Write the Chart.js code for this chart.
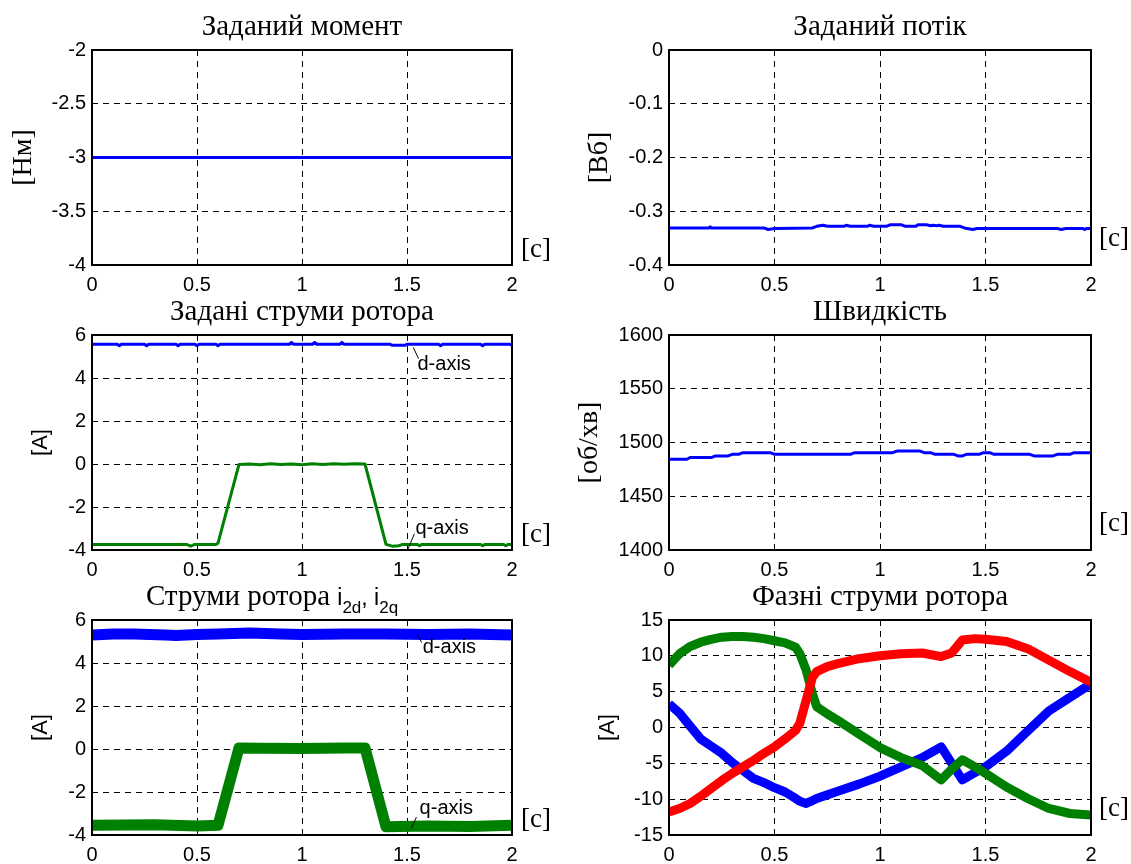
<!DOCTYPE html>
<html>
<head>
<meta charset="utf-8">
<script src="https://cdn.jsdelivr.net/npm/chart.js@4.4.0/dist/chart.umd.min.js"></script>
<style>
  body { margin: 0; background: #fff; width: 1131px; height: 864px; position: relative; overflow: hidden; }
  canvas { position: absolute; }
</style>
</head>
<body>
<script>
// ---- tick labels ----
const timeTicks = [0, 0.5, 1, 1.5, 2];
const torqueTicks = [-4, -3.5, -3, -2.5, -2];
const fluxTicks = [-0.4, -0.3, -0.2, -0.1, 0];
const currentTicks = [-4, -2, 0, 2, 4, 6];
const speedTicks = [1400, 1450, 1500, 1550, 1600];
const phaseTicks = [-15, -10, -5, 0, 5, 10, 15];

// ---- Заданий момент ----
const torqueT = [0, 2];
const torqueRef = [-3, -3];

// ---- Заданий потік ----
const fluxT = [0, 0.19, 0.195, 0.2, 0.45, 0.47, 0.5, 0.68, 0.7, 0.73, 0.75, 0.83, 0.84, 0.86, 0.94, 0.95, 0.97,
  1.03, 1.05, 1.1, 1.12, 1.17, 1.18, 1.22, 1.24, 1.25, 1.27, 1.28, 1.3, 1.38, 1.4, 1.44, 1.46, 1.84, 1.86, 1.88,
  1.96, 1.97, 1.98, 2];
const fluxRef = [-0.331, -0.331, -0.329, -0.331, -0.331, -0.334, -0.332, -0.331, -0.328, -0.326, -0.328, -0.328,
  -0.326, -0.328, -0.328, -0.326, -0.328, -0.328, -0.325, -0.325, -0.328, -0.328, -0.325, -0.325, -0.327, -0.326,
  -0.327, -0.326, -0.328, -0.328, -0.331, -0.334, -0.332, -0.332, -0.334, -0.332, -0.332, -0.334, -0.332, -0.332];

// ---- Задані струми ротора ----
const idRefT = [0, 0.12, 0.13, 0.14, 0.25, 0.26, 0.27, 0.4, 0.41, 0.42, 0.49, 0.5, 0.51, 0.59, 0.6, 0.61, 0.94,
  0.95, 0.96, 1.05, 1.06, 1.07, 1.18, 1.19, 1.2, 1.42, 1.43, 1.49, 1.5, 1.65, 1.66, 1.67, 1.85, 1.86, 1.87, 1.99, 2];
const idRef = [5.57, 5.57, 5.5, 5.57, 5.57, 5.5, 5.57, 5.57, 5.5, 5.57, 5.57, 5.5, 5.57, 5.57, 5.5, 5.57, 5.57,
  5.65, 5.57, 5.57, 5.65, 5.57, 5.57, 5.65, 5.57, 5.57, 5.52, 5.52, 5.57, 5.57, 5.5, 5.57, 5.57, 5.5, 5.57, 5.57, 5.52];
const iqRefT = [0, 0.45, 0.47, 0.49, 0.59, 0.6, 0.7, 0.75, 0.8, 0.85, 0.9, 0.95, 1.0, 1.05, 1.1, 1.15, 1.2, 1.25,
  1.3, 1.4, 1.43, 1.46, 1.48, 1.55, 1.56, 1.57, 1.85, 1.86, 1.87, 1.96, 1.97, 1.98, 2];
const iqRef = [-3.74, -3.74, -3.82, -3.74, -3.74, -3.68, -0.02, 0, -0.03, 0.01, -0.02, 0, -0.03, 0.01, -0.02, 0.01,
  -0.01, 0.01, 0, -3.74, -3.82, -3.8, -3.74, -3.74, -3.8, -3.74, -3.74, -3.8, -3.74, -3.74, -3.8, -3.74, -3.74];

// ---- Швидкість ----
const speedT = [0, 0.085, 0.1, 0.2, 0.22, 0.28, 0.3, 0.33, 0.35, 0.48, 0.5, 0.86, 0.88, 1.06, 1.08, 1.19, 1.21,
  1.24, 1.26, 1.35, 1.37, 1.39, 1.41, 1.47, 1.49, 1.52, 1.54, 1.71, 1.73, 1.82, 1.84, 1.9, 1.92, 2];
const speed = [1484.4, 1484.4, 1486, 1486, 1487.5, 1487.5, 1489, 1489, 1490.5, 1490.5, 1489, 1489, 1490.5, 1490.5,
  1492, 1492, 1490.5, 1490.5, 1489, 1489, 1487.5, 1487.5, 1489, 1489, 1490.5, 1490.5, 1489, 1489, 1487.5, 1487.5,
  1489, 1489, 1490.5, 1490.5];

// ---- Струми ротора i2d, i2q ----
const idT = [0, 0.1, 0.2, 0.35, 0.4, 0.5, 0.6, 0.75, 0.9, 1.0, 1.2, 1.4, 1.6, 1.8, 2];
const id = [5.3, 5.35, 5.35, 5.3, 5.28, 5.33, 5.35, 5.4, 5.35, 5.33, 5.35, 5.35, 5.33, 5.35, 5.3];
const iqT = [0, 0.3, 0.5, 0.6, 0.7, 0.8, 1.0, 1.2, 1.3, 1.4, 1.6, 1.8, 2];
const iq = [-3.55, -3.52, -3.58, -3.55, 0.05, 0.03, 0.02, 0.05, 0.05, -3.62, -3.58, -3.6, -3.55];

// ---- Фазні струми ротора ----
const phT = [0, 0.05, 0.1, 0.15, 0.2, 0.25, 0.3, 0.35, 0.4, 0.45, 0.5, 0.55, 0.6, 0.62, 0.65, 0.68, 0.7, 0.75, 0.8,
  0.9, 1.0, 1.1, 1.2, 1.29, 1.34, 1.39, 1.45, 1.5, 1.6, 1.7, 1.8, 1.9, 2];
const phA = [3.3, 2.0, 0.2, -1.6, -2.6, -3.6, -4.9, -6.0, -7.1, -7.7, -8.4, -9.0, -9.9, -10.3, -10.6, -10.2, -9.9,
  -9.4, -8.9, -7.9, -6.8, -5.5, -4.2, -2.7, -5.0, -7.3, -6.3, -5.5, -3.3, -0.5, 2.3, 4.2, 6.1];
const phB = [8.7, 10.3, 11.3, 11.9, 12.3, 12.6, 12.7, 12.7, 12.6, 12.4, 12.1, 11.8, 11.2, 10.3, 8.0, 4.7, 2.9, 1.9,
  1.0, -0.9, -2.8, -4.2, -5.3, -7.3, -5.8, -4.5, -5.5, -6.4, -8.3, -9.9, -11.3, -12.0, -12.2];
const phC = [-11.8, -11.3, -10.6, -9.6, -8.5, -7.4, -6.4, -5.5, -4.6, -3.6, -2.7, -1.6, -0.4, 0.6, 3.8, 7.0, 7.8,
  8.5, 8.9, 9.6, 10.0, 10.3, 10.4, 9.9, 10.4, 12.2, 12.4, 12.3, 12.0, 11.0, 9.4, 7.8, 6.3];

const BLUE = '#0000ff', GREEN = '#008000', RED = '#ff0000';
const SERIF = '"Liberation Serif", "Times New Roman", serif';
const SANS = '"Liberation Sans", Arial, sans-serif';

function makeDecor(cfg) {
  return {
    id: 'decor',
    afterDatasetsDraw(chart) {
      const ctx = chart.ctx, a = chart.chartArea;
      const sx = chart.scales.x, sy = chart.scales.y;
      ctx.save();
      ctx.strokeStyle = '#000';
      ctx.lineWidth = 2;
      ctx.setLineDash([]);
      ctx.strokeRect(a.left, a.top, a.right - a.left, a.bottom - a.top);
      // d-axis / q-axis notes
      (cfg.notes || []).forEach(n => {
        ctx.lineWidth = 1;
        ctx.beginPath();
        ctx.moveTo(sx.getPixelForValue(n.from[0]), sy.getPixelForValue(n.from[1]));
        ctx.lineTo(sx.getPixelForValue(n.to[0]), sy.getPixelForValue(n.to[1]));
        ctx.stroke();
        ctx.fillStyle = '#000';
        ctx.font = '20px ' + SANS;
        ctx.textAlign = 'left';
        ctx.textBaseline = 'middle';
        ctx.fillText(n.text, sx.getPixelForValue(n.at[0]), sy.getPixelForValue(n.at[1]));
      });
      ctx.restore();
    },
    afterDraw(chart) {
      const ctx = chart.ctx, a = chart.chartArea;
      ctx.save();
      ctx.fillStyle = '#000';
      // title
      let w = 0;
      cfg.title.forEach(p => { ctx.font = p.font; w += ctx.measureText(p.text).width; });
      let x = (a.left + a.right) / 2 - w / 2 + (cfg.titleDx || 0);
      ctx.textAlign = 'left';
      ctx.textBaseline = 'alphabetic';
      cfg.title.forEach(p => {
        ctx.font = p.font;
        ctx.fillText(p.text, x, a.top - 15 + (p.dy || 0));
        x += ctx.measureText(p.text).width;
      });
      // y label
      ctx.save();
      ctx.translate(cfg.ylabel.x, (a.top + a.bottom) / 2);
      ctx.rotate(-Math.PI / 2);
      ctx.font = cfg.ylabel.font;
      ctx.textAlign = 'center';
      ctx.textBaseline = 'middle';
      ctx.fillText(cfg.ylabel.text, 0, 0);
      ctx.restore();
      // [с]
      ctx.font = '27px ' + SERIF;
      ctx.textAlign = 'left';
      ctx.textBaseline = 'middle';
      ctx.fillText('[с]', a.right + cfg.unitDx, a.bottom - cfg.unitDy);
      ctx.restore();
    }
  };
}

function makeChart(cfg) {
  const cv = document.createElement('canvas');
  cv.width = cfg.w;
  cv.height = 294;
  cv.style.left = cfg.x + 'px';
  cv.style.top = cfg.y + 'px';
  document.body.appendChild(cv);
  const tickFont = { family: SANS, size: 20 };
  new Chart(cv, {
    type: 'line',
    data: {
      datasets: cfg.series.map((s, i) => ({
        data: s.xs.map((v, k) => ({ x: v, y: s.ys[k] })),
        borderColor: s.color,
        borderWidth: s.width,
        pointRadius: 0,
        tension: 0,
        fill: false,
        borderJoinStyle: 'round',
        order: cfg.series.length - i
      }))
    },
    options: {
      responsive: false,
      animation: false,
      events: [],
      layout: { padding: { top: 50, right: cfg.padRight, bottom: 0, left: 0 } },
      plugins: { legend: { display: false }, tooltip: { enabled: false } },
      scales: {
        x: {
          type: 'linear', min: 0, max: 2,
          afterBuildTicks: s => { s.ticks = timeTicks.map(v => ({ value: v })); },
          afterFit: s => { s.height = 29; },
          ticks: { autoSkip: false, maxRotation: 0, padding: 8, color: '#000', font: tickFont, callback: v => String(v) },
          grid: { color: '#000', lineWidth: 1, drawTicks: false },
          border: { display: false, dash: [6, 5] }
        },
        y: {
          type: 'linear', min: cfg.yTicks[0], max: cfg.yTicks[cfg.yTicks.length - 1],
          afterBuildTicks: s => { s.ticks = cfg.yTicks.map(v => ({ value: v })); },
          afterFit: s => { s.width = cfg.yw; },
          ticks: { autoSkip: false, padding: 6, color: '#000', font: tickFont, callback: v => String(v) },
          grid: { color: '#000', lineWidth: 1, drawTicks: false },
          border: { display: false, dash: [6, 5] }
        }
      }
    },
    plugins: [makeDecor(cfg)]
  });
}

const titleFont = '29px ' + SERIF;
const LEFT = { x: 0, w: 566, yw: 92, padRight: 54, unitDx: 9, unitDy: 15 };
const RIGHT = { x: 566, w: 565, yw: 103, padRight: 40, unitDx: 8, unitDy: 26 };

makeChart(Object.assign({}, LEFT, {
  y: 0, yTicks: torqueTicks,
  title: [{ text: 'Заданий момент', font: titleFont }],
  ylabel: { text: '[Нм]', font: '28px ' + SERIF, x: 24 },
  series: [{ xs: torqueT, ys: torqueRef, color: BLUE, width: 3 }]
}));

makeChart(Object.assign({}, RIGHT, {
  y: 0, yTicks: fluxTicks,
  title: [{ text: 'Заданий потік', font: titleFont }],
  ylabel: { text: '[Вб]', font: '28px ' + SERIF, x: 34 },
  series: [{ xs: fluxT, ys: fluxRef, color: BLUE, width: 3 }]
}));

makeChart(Object.assign({}, LEFT, {
  y: 285, yTicks: currentTicks,
  title: [{ text: 'Задані струми ротора', font: titleFont }],
  ylabel: { text: '[А]', font: '22px ' + SANS, x: 41 },
  series: [
    { xs: idRefT, ys: idRef, color: BLUE, width: 3 },
    { xs: iqRefT, ys: iqRef, color: GREEN, width: 3 }
  ],
  notes: [
    { text: 'd-axis', at: [1.55, 4.65], from: [1.53, 5.42], to: [1.555, 4.9] },
    { text: 'q-axis', at: [1.54, -3.0], from: [1.505, -3.95], to: [1.535, -3.25] }
  ]
}));

makeChart(Object.assign({}, RIGHT, {
  y: 285, yTicks: speedTicks,
  title: [{ text: 'Швидкість', font: titleFont }],
  ylabel: { text: '[об/хв]', font: '28px ' + SERIF, x: 24 },
  series: [{ xs: speedT, ys: speed, color: BLUE, width: 3 }]
}));

makeChart(Object.assign({}, LEFT, {
  y: 570, yTicks: currentTicks, titleDx: -30,
  title: [
    { text: 'Струми ротора ', font: titleFont },
    { text: 'i', font: '23px ' + SANS },
    { text: '2d', font: '17px ' + SANS, dy: 8 },
    { text: ', i', font: '23px ' + SANS },
    { text: '2q', font: '17px ' + SANS, dy: 8 }
  ],
  ylabel: { text: '[А]', font: '22px ' + SANS, x: 41 },
  series: [
    { xs: idT, ys: id, color: BLUE, width: 11 },
    { xs: iqT, ys: iq, color: GREEN, width: 11 }
  ],
  notes: [
    { text: 'd-axis', at: [1.575, 4.7], from: [1.548, 5.35], to: [1.57, 4.95] },
    { text: 'q-axis', at: [1.56, -2.77], from: [1.52, -3.7], to: [1.545, -3.17] }
  ]
}));

makeChart(Object.assign({}, RIGHT, {
  y: 570, yTicks: phaseTicks,
  title: [{ text: 'Фазні струми ротора', font: titleFont }],
  ylabel: { text: '[А]', font: '22px ' + SANS, x: 42 },
  series: [
    { xs: phT, ys: phA, color: BLUE, width: 9 },
    { xs: phT, ys: phB, color: GREEN, width: 9 },
    { xs: phT, ys: phC, color: RED, width: 9 }
  ]
}));
</script>
</body>
</html>
